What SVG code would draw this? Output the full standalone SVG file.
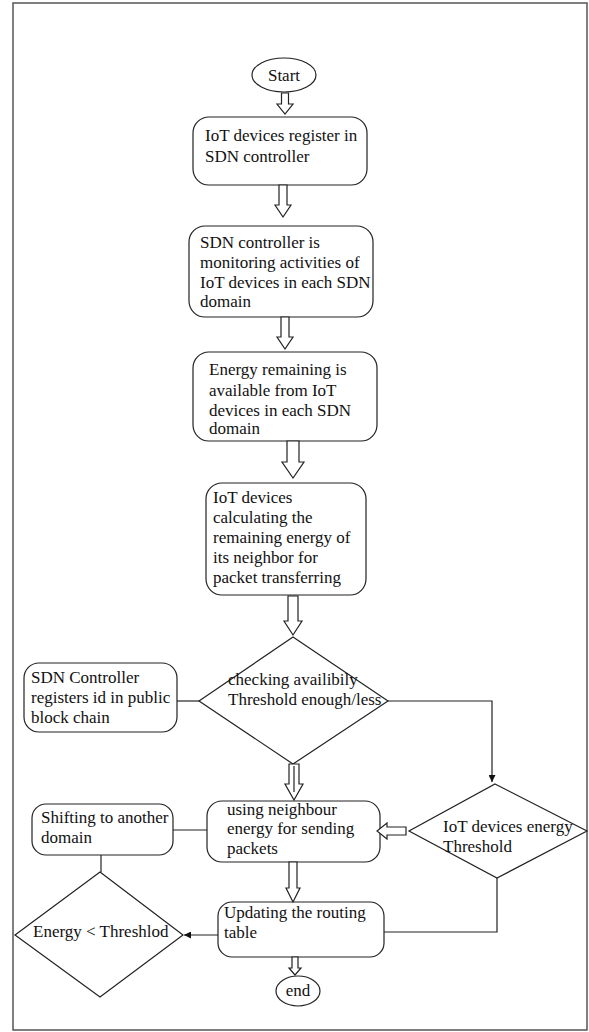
<svg xmlns="http://www.w3.org/2000/svg" width="589" height="1032" viewBox="0 0 589 1032">
  <defs>
    <marker id="tip" viewBox="0 0 10 10" refX="10" refY="5" markerWidth="7" markerHeight="7" orient="auto" markerUnits="userSpaceOnUse">
      <path d="M0,0 L10,5 L0,10 Z" fill="#111"/>
    </marker>
    <style>
      .frame { fill: #fff; stroke: #555; stroke-width: 1.5; }
      .shape { fill: #fff; stroke: #222; stroke-width: 1.2; }
      .block { fill: #fff; stroke: #222; stroke-width: 1.2; stroke-linejoin: miter; }
      .wire { fill: none; stroke: #222; stroke-width: 1.2; }
      .lbl { font-family: 'Liberation Serif', 'DejaVu Serif', serif; font-size: 17px; fill: #111; }
    </style>
  </defs>

  <rect class="frame" x="13" y="3" width="574" height="1027"/>

  <g class="lbl" font-family="Liberation Serif, serif" font-size="17">
  <!-- nodes -->
  <g id="start">
    <ellipse class="shape" cx="284" cy="75" rx="32" ry="17"/>
    <text x="284" y="81" text-anchor="middle">Start</text>
  </g>

  <g id="register">
    <rect class="shape" x="193" y="117" width="174" height="68" rx="16"/>
    <text x="205" y="141">IoT devices register in</text>
    <text x="205" y="162">SDN controller</text>
  </g>

  <g id="monitor">
    <rect class="shape" x="189" y="226" width="184" height="91" rx="16"/>
    <text x="200" y="248">SDN controller is</text>
    <text x="200" y="268">monitoring activities of</text>
    <text x="200" y="288">IoT devices in each SDN</text>
    <text x="200" y="307">domain</text>
  </g>

  <g id="energy-available">
    <rect class="shape" x="193" y="352" width="184" height="89" rx="16"/>
    <text x="209" y="375">Energy remaining is</text>
    <text x="209" y="396">available from IoT</text>
    <text x="209" y="416">devices in each SDN</text>
    <text x="209" y="434">domain</text>
  </g>

  <g id="calculate">
    <rect class="shape" x="206" y="483" width="160" height="112" rx="16"/>
    <text x="213" y="503">IoT devices</text>
    <text x="213" y="523">calculating the</text>
    <text x="213" y="543">remaining energy of</text>
    <text x="213" y="563">its neighbor for</text>
    <text x="213" y="583">packet transferring</text>
  </g>

  <g id="check-threshold">
    <polygon class="shape" points="293,637 388,701 293,764 199,701"/>
    <text x="228" y="685">checking availibily</text>
    <text x="228" y="705">Threshold enough/less</text>
  </g>

  <g id="blockchain">
    <rect class="shape" x="24" y="663" width="153" height="69" rx="15"/>
    <text x="31" y="683">SDN Controller</text>
    <text x="31" y="703">registers id in public</text>
    <text x="31" y="723">block chain</text>
  </g>

  <g id="device-threshold">
    <polygon class="shape" points="495,784 587,831 497,878 409,831"/>
    <text x="443" y="832">IoT devices energy</text>
    <text x="443" y="852">Threshold</text>
  </g>

  <g id="neighbour-energy">
    <rect class="shape" x="207" y="801" width="173" height="61" rx="15"/>
    <text x="227" y="815">using neighbour</text>
    <text x="227" y="834">energy for sending</text>
    <text x="227" y="854">packets</text>
  </g>

  <g id="shift-domain">
    <rect class="shape" x="32" y="804" width="141" height="51" rx="14"/>
    <text x="41" y="823">Shifting to another</text>
    <text x="41" y="843">domain</text>
  </g>

  <g id="energy-check">
    <polygon class="shape" points="100,872 183,935 100,997 15,935"/>
    <text x="33" y="937">Energy &lt; Threshlod</text>
  </g>

  <g id="update-table">
    <rect class="shape" x="218" y="902" width="166" height="55" rx="14"/>
    <text x="224" y="918">Updating the routing</text>
    <text x="224" y="938">table</text>
  </g>

  <g id="end">
    <ellipse class="shape" cx="298" cy="991" rx="22" ry="15"/>
    <text x="298" y="996" text-anchor="middle">end</text>
  </g>
  </g>

  <!-- connectors -->
  <g id="connectors">
    <!-- hollow block arrows down the main flow -->
    <path class="block" d="M281.5,93 H288.5 V104 H293 L285,114 L277,104 H281.5 Z"/>
    <path class="block" d="M279,185 H287 V205 H291 L283,217 L275,205 H279 Z"/>
    <path class="block" d="M281,317 H289 V337 H293 L285,349 L277,337 H281 Z"/>
    <path class="block" d="M287,441 H299 V462 H304 L293,478 L282,462 H287 Z"/>
    <path class="block" d="M288,596 H298 V621 H302 L293,635 L284,621 H288 Z"/>
    <path class="block" d="M289,764 H299 V784 H303 L294,800 L285,784 H289 Z"/>
    <line class="wire" x1="294" y1="766" x2="294" y2="792" stroke-width="2"/>
    <path class="block" d="M289,862 H297 V888 H300 L293,902 L286,888 H289 Z"/>
    <path class="block" d="M292,957 H298 V968 H301 L295,975 L289,968 H292 Z"/>
    <!-- hollow arrow from the threshold diamond into the neighbour box -->
    <path class="block" d="M406,827 V835 H387 V839 L377,831 L387,823 V827 Z"/>

    <!-- plain lines -->
    <line class="wire" x1="177" y1="701" x2="199" y2="701"/>
    <path class="wire" d="M388,701 H492 V782" marker-end="url(#tip)"/>
    <line class="wire" x1="173" y1="830" x2="207" y2="830"/>
    <line class="wire" x1="101" y1="855" x2="101" y2="872"/>
    <path class="wire" d="M497,878 V932 H384"/>
    <line class="wire" x1="218" y1="935" x2="184" y2="935" marker-end="url(#tip)"/>
  </g>
</svg>
